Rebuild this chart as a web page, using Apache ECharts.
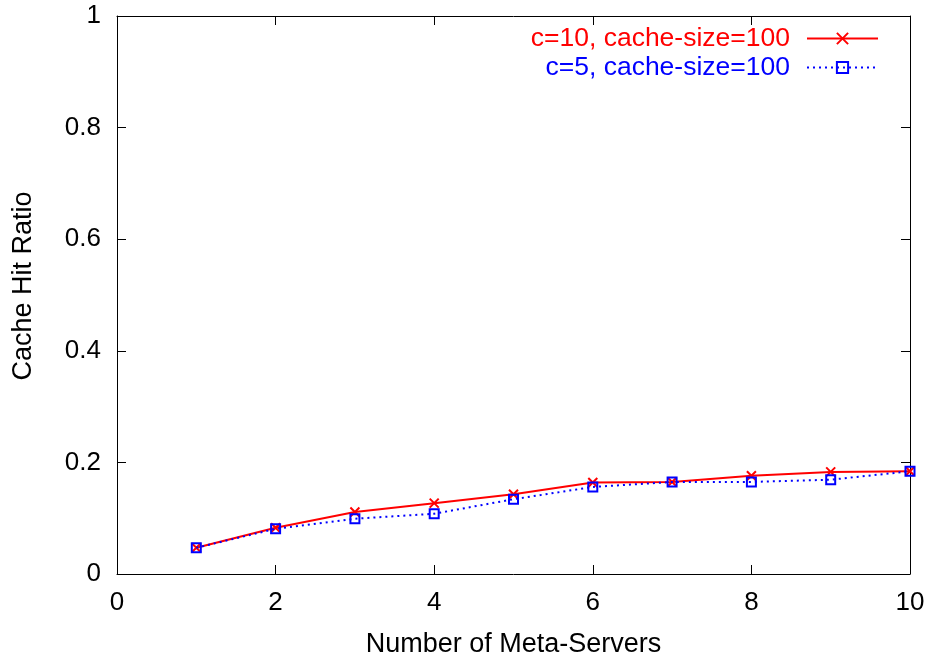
<!DOCTYPE html>
<html>
<head>
<meta charset="utf-8">
<script src="https://cdn.jsdelivr.net/npm/echarts@6/dist/echarts.min.js"></script>
<style>
html,body{margin:0;padding:0;background:#fff;}
#chart{width:930px;height:658px;}
</style>
</head>
<body>
<div id="chart"></div>
<script>
const servers = [1, 2, 3, 4, 5, 6, 7, 8, 9, 10];
const c10 = [0.047, 0.083, 0.111, 0.127, 0.143, 0.164, 0.165, 0.176, 0.183, 0.184];
const c5 = [0.047, 0.081, 0.099, 0.108, 0.134, 0.156, 0.165, 0.165, 0.169, 0.184];
const seriesNames = ['c=10, cache-size=100', 'c=5, cache-size=100'];

const FONT = "'Liberation Sans', Arial, Helvetica, sans-serif";
const chart = echarts.init(document.getElementById('chart'), null, {renderer: 'canvas'});
const pair = (xs, ys) => xs.map((x, i) => [x, ys[i]]);
const crossPath = 'path://M0,0L10,10M10,0L0,10';

const baseAxis = {
  axisLine: {show: true, onZero: false, lineStyle: {color: '#000', width: 1}},
  axisTick: {show: true, inside: true, length: 9, lineStyle: {color: '#000', width: 1}},
  splitLine: {show: false}
};

chart.setOption({
  animation: false,
  backgroundColor: '#fff',
  textStyle: {fontFamily: FONT},
  grid: {left: 117, right: 20, top: 16, bottom: 84, containLabel: false, outerBoundsMode: 'none'},
  legend: {
    orient: 'vertical',
    align: 'right',
    right: 46,
    top: 20,
    itemWidth: 71,
    itemHeight: 14,
    itemGap: 2,
    textStyle: {fontFamily: FONT, fontSize: 26.5, padding: [0, 12, 0, 0]},
    data: [
      {name: seriesNames[0], textStyle: {color: '#ff0000'}},
      {name: seriesNames[1], textStyle: {color: '#0000ff'}}
    ]
  },
  xAxis: [
    Object.assign({}, baseAxis, {
      type: 'value', min: 0, max: 10, interval: 2, position: 'bottom',
      name: 'Number of Meta-Servers', nameLocation: 'middle', nameGap: 57,
      nameTextStyle: {fontFamily: FONT, fontSize: 27, color: '#000'},
      axisLabel: {fontFamily: FONT, fontSize: 26, color: '#000', margin: 16}
    }),
    Object.assign({}, baseAxis, {
      type: 'value', min: 0, max: 10, interval: 2, position: 'top',
      axisLabel: {show: false}
    })
  ],
  yAxis: [
    Object.assign({}, baseAxis, {
      type: 'value', min: 0, max: 1, interval: 0.2, position: 'left',
      name: 'Cache Hit Ratio', nameLocation: 'middle', nameGap: 80,
      nameTextStyle: {fontFamily: FONT, fontSize: 27, color: '#000', padding: [0, 0, 0, 18]},
      axisLabel: {fontFamily: FONT, fontSize: 26, color: '#000', margin: 16}
    }),
    Object.assign({}, baseAxis, {
      type: 'value', min: 0, max: 1, interval: 0.2, position: 'right',
      axisLabel: {show: false}
    })
  ],
  series: [
    {
      name: seriesNames[0], type: 'line', xAxisIndex: 0, yAxisIndex: 0,
      data: pair(servers, c10),
      symbol: crossPath, symbolSize: 9,
      lineStyle: {color: '#ff0000', width: 2, type: 'solid'},
      itemStyle: {color: '#ff0000', borderColor: '#ff0000', borderWidth: 2},
      z: 2
    },
    {
      name: seriesNames[1], type: 'line', xAxisIndex: 0, yAxisIndex: 0,
      data: pair(servers, c5),
      symbol: 'rect', symbolSize: 9,
      lineStyle: {color: '#0000ff', width: 2, type: [2, 4]},
      itemStyle: {color: 'rgba(0,0,0,0)', borderColor: '#0000ff', borderWidth: 2},
      z: 3
    }
  ]
});
</script>
</body>
</html>
